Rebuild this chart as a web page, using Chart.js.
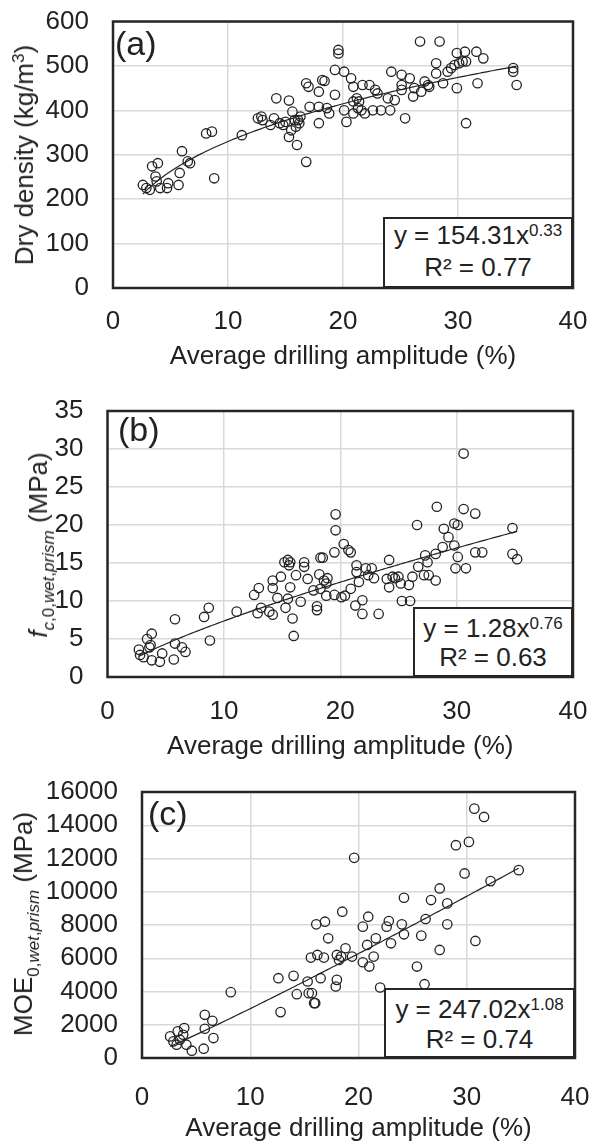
<!DOCTYPE html>
<html>
<head>
<meta charset="utf-8">
<script src="https://cdn.jsdelivr.net/npm/chart.js@4.4.0/dist/chart.umd.min.js"></script>
<style>
body { margin: 0; background: #fff; font-family: "Liberation Sans", Arial, sans-serif; color: #222; }
#page { position: relative; width: 590px; height: 1144px; overflow: hidden; }
canvas { position: absolute; left: 0; }
.ytitle { position: absolute; font-size: 26px; line-height: 26px; height: 26px; white-space: nowrap;
  transform: translate(-50%, -50%) rotate(-90deg); }
.ytitle .sub { font-size: 17px; line-height: 1; vertical-align: -6.5px; }
.ytitle .s3 { font-size: 17px; line-height: 1; vertical-align: 9px; }
.tag { position: absolute; font-size: 34px; line-height: 34px; }
.eq { position: absolute; box-sizing: border-box; border: 2px solid #262626; background: #fff;
  text-align: center; font-size: 26px; }
.eq div { white-space: nowrap; }
.eq sup { font-size: 17px; line-height: 1; vertical-align: 8px; }
</style>
</head>
<body>
<div id="page">
  <canvas id="chart-a" width="590" height="380" style="top:0"></canvas>
  <canvas id="chart-b" width="590" height="384" style="top:380px"></canvas>
  <canvas id="chart-c" width="590" height="384" style="top:760px"></canvas>

  <div class="ytitle" style="left:23px; top:155px">Dry density (kg/m<span class="s3">3</span>)</div>
  <div class="ytitle" style="left:38px; top:545px"><i>f</i><span class="sub"><i>c</i>,0,<i>wet</i>,<i>prism</i></span> (MPa)</div>
  <div class="ytitle" style="left:23px; top:924px">MOE<span class="sub">0,<i>wet</i>,<i>prism</i></span> (MPa)</div>

  <div class="tag" style="left:115px; top:26px">(a)</div>
  <div class="tag" style="left:118px; top:412px">(b)</div>
  <div class="tag" style="left:148px; top:796px">(c)</div>

  <div class="eq" style="left:383px; top:217px; width:190px; height:71px; padding-top:1px; line-height:31.5px">
    <div>y = 154.31x<sup>0.33</sup></div><div>R² = 0.77</div>
  </div>
  <div class="eq" style="left:413px; top:607px; width:160px; height:70px; padding-top:5px; line-height:29px">
    <div>y = 1.28x<sup>0.76</sup></div><div>R² = 0.63</div>
  </div>
  <div class="eq" style="left:384px; top:988px; width:191px; height:70px; padding-top:4px; line-height:30px">
    <div>y = 247.02x<sup>1.08</sup></div><div>R² = 0.74</div>
  </div>
</div>

<script>
// (a) dry density vs average drilling amplitude
const densityX = [2.6, 2.9, 3.2, 3.4, 3.9, 3.7, 3.8, 4.1, 4.7, 4.8, 5.7, 5.8, 6.0, 6.5, 6.7,
    8.1, 8.6, 8.8, 11.2, 12.6, 12.9, 13.0, 13.7, 14.0, 14.2, 14.5, 14.8, 15.0, 15.3, 15.3, 15.5, 15.6, 15.8, 15.9, 16.1,
    16.2, 16.0, 16.3, 16.8, 16.8, 17.0, 17.1,
    17.9, 17.9, 17.9, 18.2, 18.4, 18.6, 18.8, 19.3, 19.3, 19.6, 19.6,
    20.1, 20.1, 20.3, 20.7, 20.9, 20.9, 21.2, 20.9, 21.3, 21.4, 21.6, 21.7, 21.9, 22.3, 22.6, 22.8, 23.0, 23.3, 23.9, 24.1,
    24.2, 24.5, 25.1, 25.1, 25.1, 25.4, 25.8, 26.1, 26.2, 26.7, 26.8, 27.1, 27.4, 27.5, 28.1, 28.1, 28.4, 28.7, 29.1, 29.4,
    29.7, 29.9, 29.9, 30.1, 30.4, 30.7, 30.6, 30.7, 31.6, 31.7, 32.2, 34.8, 34.8, 35.1];
const densityY = [232, 225, 221, 274, 281, 251, 240, 225, 225, 236, 232, 259, 308, 285, 281,
    348, 352, 247, 344, 382, 386, 378, 367, 382, 427, 371, 367, 374, 422, 340, 355, 397, 378, 363, 378,
    371, 322, 386, 284, 461, 453, 408,
    442, 408, 371, 468, 466, 405, 393, 435, 491, 536, 528,
    487, 400, 374, 472, 453, 420, 427, 393, 405, 420, 400, 457, 393, 457, 400, 446, 438, 400, 427, 400,
    487, 423, 480, 457, 446, 382, 472, 431, 450, 555, 442, 465, 457, 453, 506, 483, 555, 461, 487, 495,
    502, 529, 450, 506, 510, 510, 532, 371, 532, 461, 517, 495, 487, 457];

// (b) compressive strength
const strengthX = [2.7, 2.8, 3.1, 3.4, 3.8, 3.7, 3.8, 4.5, 4.7, 3.6, 5.7, 5.8, 5.8, 6.4, 6.7, 8.3, 8.7, 8.8,
    11.1, 12.6, 12.9, 13.0, 13.2, 13.9, 14.2, 14.2, 14.2, 14.6, 14.9, 15.2, 15.5, 15.6, 15.7, 15.3, 15.5, 15.7, 15.9, 16.0,
    16.2, 16.6, 16.9, 16.9, 17.2, 17.7, 18.0, 18.0, 18.2, 18.3, 18.5, 18.6, 18.8, 18.9, 18.8, 19.5, 19.5, 19.6, 19.6,
    18.3, 20.3, 20.7, 20.9, 20.1, 20.4, 20.9, 21.4, 21.4, 21.6, 21.3, 21.9, 21.9, 22.2, 22.4, 22.7, 22.9, 23.3, 24.2, 24.0,
    24.2, 24.5, 24.7, 25.0, 25.2, 25.3, 25.9, 26.0, 26.2, 26.6, 26.7, 27.2, 27.3, 27.5, 27.6, 28.2, 28.2, 28.3, 28.8, 28.9,
    29.3, 29.8, 29.8, 29.9, 30.1, 30.1, 30.6, 30.6, 30.8, 31.6, 31.6, 32.2, 34.8, 34.8, 35.2];
const strengthY = [3.6, 2.9, 2.6, 5.0, 5.7, 4.2, 2.2, 2.0, 3.1, 3.9, 2.3, 4.4, 7.6, 3.9, 3.3, 7.9, 9.1, 4.8,
    8.6, 10.8, 8.4, 11.7, 9.1, 8.6, 8.2, 11.7, 12.7, 10.4, 13.2, 15.1, 15.4, 14.7, 15.1, 9.1, 10.3, 11.8, 7.7, 5.4,
    13.4, 9.9, 15.1, 14.5, 12.9, 11.4, 8.8, 9.3, 13.5, 15.7, 15.7, 12.7, 12.3, 13.0, 10.7, 10.8, 16.4, 19.3, 21.4,
    11.6, 17.5, 16.7, 16.4, 10.5, 10.7, 11.6, 14.7, 13.8, 12.5, 9.4, 10.1, 8.3, 14.3, 13.4, 14.3, 13.0, 8.3, 15.4, 12.9,
    11.8, 13.2, 13.0, 13.2, 12.3, 10.0, 12.1, 10.0, 13.2, 20.0, 14.5, 13.4, 16.0, 15.1, 13.4, 16.2, 12.7, 22.4, 17.1, 19.5,
    18.4, 20.2, 17.3, 14.3, 20.0, 15.8, 29.4, 22.1, 14.3, 21.5, 16.4, 16.4, 19.6, 16.2, 15.5];

// (c) modulus of elasticity
const moeX = [2.6, 2.9, 3.2, 3.3, 3.5, 3.9, 3.8, 4.1, 4.6, 5.7, 5.8, 5.8, 6.5, 6.6, 8.2, 12.8, 12.6, 14.0, 14.3, 15.3,
    15.4, 15.7, 15.9, 16.0, 16.5, 15.6, 16.2, 16.8, 17.2, 16.1, 16.9, 17.9, 18.0, 18.0, 18.2, 18.5,
    18.4, 18.8, 19.4, 19.6, 20.4, 20.4, 20.8, 21.0, 20.9, 21.4, 21.6, 22.0, 22.6, 22.8, 23.0, 24.0, 24.2, 24.2, 25.4, 25.8,
    26.1, 26.2, 26.7, 27.5, 27.5, 28.2, 28.2, 29.0, 29.8, 30.2, 30.8, 30.7, 31.6, 32.2, 34.8];
const moeY = [1300, 1000, 800, 1600, 1100, 1800, 1400, 800, 440, 560, 1760, 2600, 2240, 1200, 3960, 2760, 4800, 4940, 3840, 4600,
    3900, 3900, 3300, 3300, 4800, 6040, 6200, 6040, 7200, 8040, 8200, 4300, 4700, 6200, 5900, 8800,
    6100, 6600, 6100, 12040, 7900, 5760, 6800, 5500, 8500, 6100, 7200, 4240, 7900, 8240, 6900, 8040, 7440, 9640, 5500, 7360,
    4440, 8360, 9500, 6500, 10200, 9300, 8040, 12800, 11100, 13000, 7040, 15000, 14500, 10640, 11300];

// power trendlines y = a * x^b, as printed on the chart
const fitCoef = [154.31, 1.28, 247.02];
const fitExp = [0.33, 0.76, 1.08];

// axis ranges
const xTicks = [0, 40, 10];
const yMax = [600, 35, 16000];
const yStep = [100, 5, 2000];

const ink = '#222';
const font = { family: '"Liberation Sans", Arial, sans-serif', size: 26 };

const frame = {
    id: 'frame',
    afterDatasetsDraw(chart) {
        const { ctx, chartArea: a } = chart;
        ctx.save();
        ctx.strokeStyle = '#262626';
        ctx.lineWidth = 2.5;
        ctx.strokeRect(a.left, a.top, a.right - a.left, a.bottom - a.top);
        ctx.restore();
    }
};

function toPoints(xs, ys) {
    return xs.map((x, i) => ({ x: x, y: ys[i] }));
}

function trend(xs, k) {
    const lo = Math.min(...xs), hi = Math.max(...xs);
    const pts = [];
    for (let x = lo; x < hi; x += 0.25) pts.push({ x: x, y: fitCoef[k] * Math.pow(x, fitExp[k]) });
    pts.push({ x: hi, y: fitCoef[k] * Math.pow(hi, fitExp[k]) });
    return pts;
}

// no extra room for edge labels, the plot box is set by hand
function pinScale(s, size) {
    if (s.isHorizontal()) s.height = size; else s.width = size;
    s.paddingTop = 0;
    s.paddingBottom = 0;
    s.paddingLeft = 0;
    s.paddingRight = 0;
}

// box = [padTop, padRight, yAxisWidth, xAxisHeight, xTickPad, titlePadBottom]
function makeChart(id, k, xs, ys, box) {
    new Chart(document.getElementById(id), {
        type: 'scatter',
        data: {
            datasets: [
                {
                    data: trend(xs, k),
                    showLine: true,
                    borderColor: ink,
                    borderWidth: 1.2,
                    pointRadius: 0,
                },
                {
                    data: toPoints(xs, ys),
                    pointStyle: 'circle',
                    pointRadius: 4.7,
                    borderWidth: 1.3,
                    borderColor: ink,
                    backgroundColor: 'rgba(0,0,0,0)',
                }
            ]
        },
        options: {
            responsive: false,
            animation: false,
            events: [],
            layout: { padding: { top: box[0], right: box[1], left: 0, bottom: 0 } },
            plugins: { legend: { display: false }, tooltip: { enabled: false } },
            scales: {
                x: {
                    min: xTicks[0], max: xTicks[1],
                    ticks: { stepSize: xTicks[2], color: ink, font: font, padding: box[4], maxRotation: 0, autoSkip: false },
                    grid: { color: '#d9d9d9', lineWidth: 1.5, drawTicks: false },
                    border: { display: false },
                    title: {
                        display: true, text: 'Average drilling amplitude (%)', color: ink,
                        font: Object.assign({ lineHeight: 1 }, font), padding: { top: 0, bottom: box[5] }
                    },
                    afterFit: (s) => pinScale(s, box[3])
                },
                y: {
                    min: 0, max: yMax[k],
                    ticks: {
                        stepSize: yStep[k], color: ink, font: font, padding: 24, autoSkip: false,
                        callback: (v) => String(v)
                    },
                    grid: { color: '#d9d9d9', lineWidth: 1.5, drawTicks: false },
                    border: { display: false },
                    afterFit: (s) => pinScale(s, box[2])
                }
            }
        },
        plugins: [frame]
    });
}

makeChart('chart-a', 0, densityX, densityY, [21.5, 17, 113, 92, 18, 9.7]);
makeChart('chart-b', 1, strengthX, strengthY, [31, 17, 107.5, 87, 19, 3.7]);
makeChart('chart-c', 2, moeX, moeY, [32, 15, 142, 86, 24, 1.7]);
</script>
</body>
</html>
